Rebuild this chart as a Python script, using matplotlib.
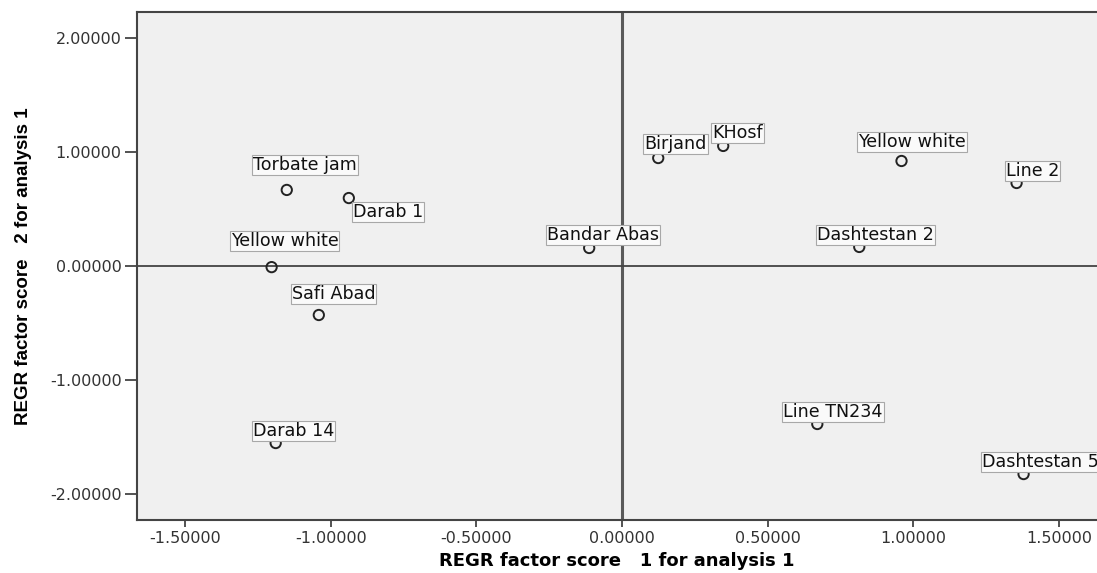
import matplotlib
matplotlib.use("Agg")
from matplotlib import pyplot as plt
from matplotlib import font_manager

# factor scores
names = ["Torbate jam", "Darab 1", "Yellow white", "Safi Abad", "Darab 14",
         "Bandar Abas", "Birjand", "KHosf", "Yellow white", "Line 2",
         "Dashtestan 2", "Line TN234", "Dashtestan 5"]
score1 = [-1.151, -0.938, -1.203, -1.041, -1.189, -0.113, 0.124, 0.347,
          0.959, 1.354, 0.814, 0.670, 1.378]
score2 = [0.667, 0.596, -0.010, -0.430, -1.553, 0.158, 0.947, 1.053,
          0.921, 0.728, 0.167, -1.386, -1.825]
xticks = [-1.5, -1.0, -0.5, 0.0, 0.5, 1.0, 1.5]
yticks = [-2.0, -1.0, 0.0, 1.0, 2.0]

# label placement (pixel offsets from point), Darab 1 sits below right
offsets = [(-34, 16), (4, -5), (-41, 17), (-27, 12), (-23, 3), (-42, 4), (-14, 5),
           (-11, 4), (-43, 10), (-11, 3), (-42, 3), (-34, 3), (-42, 3)]

plt.rcParams['font.family'] = ['DejaVu Sans']

have_narrow = any(f.name == 'Liberation Sans Narrow' for f in font_manager.fontManager.ttflist)
ylab_font = ['Liberation Sans Narrow'] if have_narrow else ['Liberation Sans']
ylab_size = 16 if have_narrow else 13.5

fig = plt.figure(figsize=(10.97, 5.73), dpi=100)
ax = fig.add_axes([0.1249, 0.0925, 0.8751, 0.8866])
ax.set_facecolor('#f0f0f0')

ax.axvline(0, color='#5a5a5a', lw=2.2, zorder=1)
ax.axhline(0, color='#444444', lw=1.3, zorder=1)

ax.scatter(score1, score2, s=55, facecolors='none', edgecolors='#222222',
           linewidths=1.4, zorder=3)

for name, x, y, (dx, dy) in zip(names, score1, score2, offsets):
    va = 'bottom' if dy > 0 else 'top'
    ax.annotate(name, (x, y), xytext=(dx, dy), textcoords='offset pixels',
                ha='left', va=va, fontsize=12.6, color='#111111', zorder=4,
                bbox=dict(boxstyle='square,pad=0.06', fc='#fafafa', ec='#a8a8a8', lw=0.8))

ax.set_xlim(-1.665, 1.63)
ax.set_ylim(-2.228, 2.228)
ax.set_xticks(xticks)
ax.set_yticks(yticks)
ax.set_xticklabels(["%.5f" % v for v in xticks])
ax.set_yticklabels(["%.5f" % v for v in yticks])
ax.tick_params(axis='both', direction='out', width=1.3, color='#444444',
               labelsize=11.5, labelcolor='#333333')
ax.tick_params(axis='x', length=5, pad=3)
ax.tick_params(axis='y', length=9, pad=2)

for side in ['left', 'bottom', 'top']:
    ax.spines[side].set_color('#444444')
    ax.spines[side].set_linewidth(1.5)
ax.spines['right'].set_visible(False)

ax.set_xlabel("REGR factor score   1 for analysis 1", fontsize=13, fontweight='bold')
ax.xaxis.set_label_coords(0.5, -0.063)
ax.set_ylabel("REGR factor score   2 for analysis 1", fontsize=ylab_size, fontweight='bold',
              family=ylab_font)
ax.yaxis.set_label_coords(-0.109, 0.5)

fig.savefig("out.png", dpi=100)
